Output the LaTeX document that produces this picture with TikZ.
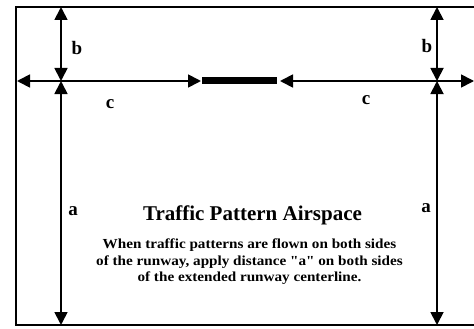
\documentclass[tikz,border=0pt]{standalone}
\usepackage{fontspec}
\usepackage{graphicx}
\setmainfont{Liberation Serif}
\usetikzlibrary{arrows.meta}
\begin{document}
\begin{tikzpicture}[x=1pt,y=-1pt,
  dimboth/.style={line width=1.8pt,{Triangle[length=13pt,width=13pt]}-{Triangle[length=13pt,width=13pt]}},
  lbl/.style={font=\bfseries\fontsize{19}{19}\selectfont,inner sep=0pt},
  body/.style={font=\bfseries\fontsize{13.8}{16.5}\selectfont,align=center,inner sep=0pt}]
\useasboundingbox (0,0) rectangle (474,329);
\fill[white] (0,0) rectangle (474,329);
% airspace outline (open at the right)
\draw[line width=1.4pt] (474,7) -- (16,7);
\draw[line width=2.4pt] (16,6.3) -- (16,325) -- (474,325);
% reference points
\coordinate (top1) at (61,7);
\coordinate (mid1) at (61,81);
\coordinate (bot1) at (61,325);
\coordinate (top2) at (437,7);
\coordinate (mid2) at (437,81);
\coordinate (bot2) at (437,325);
\coordinate (lft) at (17,81);
\coordinate (rgt) at (474,81);
% runway
\node[fill=black,minimum width=75pt,minimum height=7pt,inner sep=0pt] (rwy) at (239.5,81) {};
\coordinate (rwyL) at (201,81);
\coordinate (rwyR) at (280,81);
% dimension arrows
\draw[dimboth] (top1) -- (mid1);
\draw[dimboth] (top2) -- (mid2);
\draw[dimboth] (mid1) -- (bot1);
\draw[dimboth] (mid2) -- (bot2);
\draw[dimboth] (lft) -- (rwyL);
\draw[dimboth] (rwyR) -- (rgt);
% labels
\node[lbl] (b1) at (77,48) {b};
\node[lbl] (b2) at (427,46) {b};
\node[lbl] (c1) at (110,104) {c};
\node[lbl] (c2) at (366,100) {c};
\node[lbl] (a1) at (73,211) {a};
\node[lbl] (a2) at (426,208) {a};
% text
\node[font=\bfseries\fontsize{21}{21}\selectfont,inner sep=0pt] (title) at (252.5,215) {Traffic Pattern Airspace};
\node[body] (note) at (249.5,262) {\scalebox{1.1}[1]{When traffic patterns are flown on both sides}\\\scalebox{1.1}[1]{of the runway, apply distance \textquotedbl a\textquotedbl\ on both sides}\\\scalebox{1.1}[1]{of the extended runway centerline.}};
\end{tikzpicture}
\end{document}
